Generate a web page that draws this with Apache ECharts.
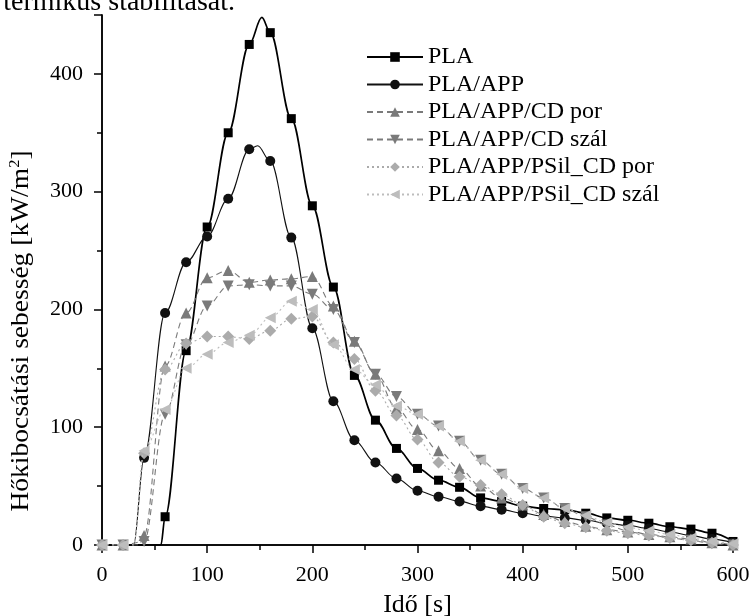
<!DOCTYPE html>
<html>
<head>
<meta charset="utf-8">
<title>Hőkibocsátási sebesség</title>
<script src="https://cdn.jsdelivr.net/npm/echarts@6/dist/echarts.min.js"></script>
<style>
  html, body { margin: 0; padding: 0; background: #fff; }
  #chart { width: 753px; height: 616px; }
</style>
</head>
<body>
<div id="chart"></div>
<script>
// ido [s], meresi pontok 20 s-onkent
var times = [0,20,40,60,80,100,120,140,160,180,200,220,240,260,280,300,320,340,360,380,400,420,440,460,480,500,520,540,560,580,600];

var names = ['PLA', 'PLA/APP', 'PLA/APP/CD por', 'PLA/APP/CD szál', 'PLA/APP/PSil_CD por', 'PLA/APP/PSil_CD szál'];

var pla      = [0,0,0,24,165,270,350,425,435,362,288,219,144,106,82,65,55,49,40,37,33,31,30,27,23,21,18.5,15.5,13.5,10,3];
var plaApp   = [0,0,74,197,240,262,294,336,326,261,184,122,89,70,56.5,46,41,37,33,30,27,24.5,23,21,18.5,16.5,14,11,8,5,2];
var cdPor    = [0,0,8,152,197,227,233,223,225,226,228,203,173,145,116,98,80,65,50,40,34,26,20,16,13,11,9,7,5,2,0];
var cdSzal   = [0,0,3,111,170,203,220,221,220,220,213,200,172,145,126,111,101,88,72,60,48,40,31,24,17,12,9,6,4,1,0];
var psilPor  = [0,0,78,149,171,177,177,175,182,192,194,172,158,131,110,89.5,70,58,51,43,34,24,18.5,15,12,10,8,6,4,2,0];
var psilSzal = [0,0,80,115,150,162,172,178,193,207,200,170,149,136,118,111,101,88,72,60,48,40,31,25,19,15,12,9,6,3,1];

// gorbe pontok jel nelkul: felfutas kezdete es csucs [ido, ertek]
var onsets = [56, 30, 35, 40, 30, 30];
var peaks  = [[152, 448], [148, 339], null, null, null, null];

var xTicks = [0, 100, 200, 300, 400, 500, 600];
var yTicks = [0, 100, 200, 300, 400];

var FONT = 'Liberation Serif';

/* pontlista osszeallitasa */
function buildData(vals, idx, hideZero) {
  var out = [];
  for (var i = 0; i < times.length; i++) {
    var t = times[i];
    var prev = i > 0 ? times[i - 1] : -1;
    if (onsets[idx] > prev && onsets[idx] < t) {
      out.push({ value: [onsets[idx], 0], symbol: 'none' });
    }
    if (peaks[idx] && peaks[idx][0] > prev && peaks[idx][0] < t) {
      out.push({ value: peaks[idx], symbol: 'none' });
    }
    var item = { value: [t, vals[i]] };
    if (hideZero && vals[i] === 0) item.symbol = 'none';
    out.push(item);
  }
  return out;
}

function lineSeries(idx, vals, o) {
  return {
    name: names[idx],
    type: 'line',
    smooth: 0.35,
    smoothMonotone: 'x',
    data: buildData(vals, idx, o.hideZero),
    symbol: o.symbol,
    symbolSize: o.size,
    symbolRotate: o.rotate || 0,
    itemStyle: { color: o.color },
    lineStyle: { color: o.color, width: o.width, type: o.type },
    z: 2 + idx
  };
}

var chart = echarts.init(document.getElementById('chart'), null, { renderer: 'canvas' });

var axisBase = {
  axisLine: { show: true, lineStyle: { color: '#000', width: 1.5 } },
  splitLine: { show: false }
};
function ticks(inside) {
  return {
    axisTick: { show: true, inside: inside, length: 8, lineStyle: { color: '#000', width: 1.5 } },
    minorTick: { show: true, splitNumber: 2, length: 5, lineStyle: { color: '#000', width: 1.5 } }
  };
}

var option = {
  animation: false,
  backgroundColor: '#fff',
  grid: { left: 102, right: 20, top: 15, bottom: 71, containLabel: false, outerBoundsMode: 'none' },
  legend: {
    orient: 'vertical',
    left: 361,
    top: 40,
    itemWidth: 56,
    itemHeight: 12,
    itemGap: 3.5,
    data: names,
    textStyle: { fontFamily: FONT, fontSize: 24, color: '#000', lineHeight: 24 }
  },
  xAxis: [
    Object.assign({
      type: 'value', min: 0, max: 600, interval: 100,
      name: 'Idő [s]', nameLocation: 'middle', nameGap: 47,
      nameTextStyle: { fontFamily: FONT, fontSize: 26, color: '#000' },
      axisLabel: {
        margin: 19, fontFamily: FONT, fontSize: 22, color: '#000',
        formatter: function (v) { return xTicks.indexOf(v) >= 0 ? v : ''; }
      }
    }, axisBase, ticks(false)),
    Object.assign({
      type: 'value', position: 'top', min: 0, max: 600, interval: 100,
      axisLabel: { show: false }
    }, axisBase, ticks(true))
  ],
  yAxis: [
    Object.assign({
      type: 'value', min: 0, max: 450, interval: 100,
      axisLabel: {
        margin: 19, fontFamily: FONT, fontSize: 22, color: '#000',
        formatter: function (v) { return yTicks.indexOf(v) >= 0 ? v : ''; }
      }
    }, axisBase, ticks(false)),
    Object.assign({
      type: 'value', position: 'right', min: 0, max: 450, interval: 100,
      axisLabel: { show: false }
    }, axisBase, ticks(true))
  ],
  series: [
    lineSeries(0, pla,      { symbol: 'rect',     size: 9,  color: '#000',    width: 1.7, type: 'solid', hideZero: true }),
    lineSeries(1, plaApp,   { symbol: 'circle',   size: 10, color: '#111',    width: 1.1, type: 'solid', hideZero: true }),
    lineSeries(2, cdPor,    { symbol: 'triangle', size: 11, color: '#7a7a7a', width: 1.1, type: [6, 4] }),
    lineSeries(3, cdSzal,   { symbol: 'triangle', size: 11, color: '#7a7a7a', width: 1.1, type: [6, 4], rotate: 180 }),
    lineSeries(4, psilPor,  { symbol: 'diamond',  size: 12, color: '#ababab', width: 1.1, type: [2, 3] }),
    lineSeries(5, psilSzal, { symbol: 'triangle', size: 11, color: '#bdbdbd', width: 1.1, type: [2, 3], rotate: 90 })
  ],
  graphic: [
    {
      // levagott sor a kep tetejen
      type: 'text', right: 518, top: -11,
      style: { text: 'termikus stabilitását.', fontFamily: FONT, fontSize: 28, fill: '#000' }
    },
    {
      type: 'text', x: 21, y: 331, rotation: Math.PI / 2,
      scaleX: 1.1,
      style: {
        text: '{a|Hőkibocsátási sebesség [kW/m}{s|2}{a|]}',
        align: 'center', verticalAlign: 'middle',
        rich: {
          a: { fontFamily: FONT, fontSize: 25, fill: '#000', lineHeight: 26 },
          s: { fontFamily: FONT, fontSize: 15, fill: '#000', lineHeight: 26, verticalAlign: 'top', padding: [0, 0, 9, 0] }
        }
      }
    }
  ]
};

chart.setOption(option);
</script>
</body>
</html>
